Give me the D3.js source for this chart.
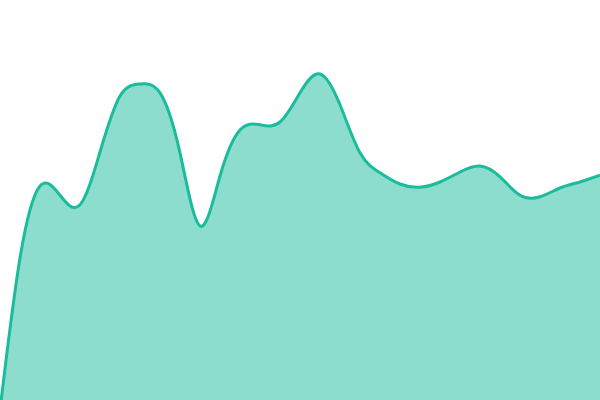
<!DOCTYPE html>
<html>
<head>
<meta charset="utf-8">
<script src="https://cdn.jsdelivr.net/npm/d3@7"></script>
<style>
  html, body { margin: 0; padding: 0; background: #fff; }
  svg { display: block; }
</style>
</head>
<body>
<svg id="chart" width="600" height="400"></svg>
<script>
// x positions (index) and values, 0..100 scale
const steps = d3.range(31);
const values = [-2.5, 35.5, 53.5, 51.2, 48.8, 62, 76, 79, 76.8, 61.8,
                43.5, 56, 67.5, 68.8, 69.5, 76.8, 81.5, 73.8, 61.8, 56.8,
                54, 53.2, 54.5, 57, 58.5, 55.8, 51.2, 50.8, 53, 54.5, 56.2];

const width = 600;
const height = 400;
const svg = d3.select("#chart");

const data = steps.map((s, i) => ({ step: s, value: values[i] }));

const x = d3.scaleLinear()
    .domain([0, steps.length - 1])
    .range([0, width]);

const y = d3.scaleLinear()
    .domain([0, 100])
    .range([height, 0]);

const area = d3.area()
    .x(d => x(d.step))
    .y0(height)
    .y1(d => y(d.value))
    .curve(d3.curveNatural);

const line = d3.line()
    .x(d => x(d.step))
    .y(d => y(d.value))
    .curve(d3.curveNatural);

svg.append("path")
    .datum(data)
    .attr("d", area)
    .attr("fill", "#1abc9c")
    .attr("fill-opacity", 0.5);

svg.append("path")
    .datum(data)
    .attr("d", line)
    .attr("fill", "none")
    .attr("stroke", "#1abc9c")
    .attr("stroke-width", 3);
</script>
</body>
</html>
